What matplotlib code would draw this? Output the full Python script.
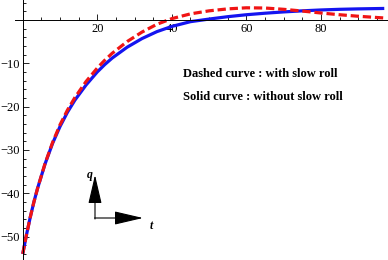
import matplotlib
matplotlib.use("Agg")
import matplotlib.pyplot as plt
from matplotlib.ticker import FixedLocator

# values
t = [0, 1, 2, 3, 4, 6, 8, 10, 12, 14, 17, 20, 22, 24, 28, 32, 36, 40, 45,
     50, 55, 60, 65, 70, 75, 80, 85, 90, 97]
q_solid = [-54, -49.6, -45.6, -42.0, -38.8, -33.2, -28.5, -24.6, -21.3, -18.5,
           -15.0, -12.0, -10.3, -8.8, -6.3, -4.3, -2.7, -1.5, -0.4,
           0.2, 0.75, 1.2, 1.55, 1.85, 2.1, 2.3, 2.45, 2.55, 2.65]
q_dashed = [-54, -49.6, -45.6, -42.0, -38.8, -33.1, -28.3, -24.2, -20.8, -17.9,
            -14.2, -11.1, -9.3, -7.7, -5.0, -2.8, -1.0, 0.3, 1.4,
            2.1, 2.55, 2.8, 2.75, 2.45, 2.05, 1.6, 1.2, 0.85, 0.45]
xticks = [20, 40, 60, 80]
yticks = [-50, -40, -30, -20, -10]

plt.rcParams['font.family'] = ['Liberation Serif', 'DejaVu Serif']

fig = plt.figure(figsize=(3.88, 2.6), dpi=100)
ax = fig.add_axes([0, 0, 1, 1])
ax.set_xlim(-6.1, 98)
ax.set_ylim(-55.4, 4.6)

ax.plot(t, q_solid, color='#1414f0', lw=2.3, solid_capstyle='butt')
ax.plot(t, q_dashed, color='#f01414', lw=2.3, dashes=(2.6, 1.2))

for s in ['top', 'right']:
    ax.spines[s].set_visible(False)
ax.spines['left'].set_position(('data', 0))
ax.spines['bottom'].set_position(('data', 0))
ax.spines['bottom'].set_bounds(-2, 98)
for s in ['left', 'bottom']:
    ax.spines[s].set_linewidth(0.7)

ax.xaxis.set_major_locator(FixedLocator(xticks))
ax.xaxis.set_minor_locator(FixedLocator([v for v in range(5, 98, 5) if v % 20]))
ax.yaxis.set_major_locator(FixedLocator(yticks))
ax.yaxis.set_minor_locator(FixedLocator([v for v in range(-54, 5, 2) if v % 10]))
ax.tick_params(which='both', direction='in', width=0.6, labelsize=9, pad=2)
ax.tick_params(which='major', length=4)
ax.tick_params(which='minor', length=2.2)

fh = 260
ax.text(183, fh - 74, 'Dashed curve : with slow roll', transform=None,
        fontsize=9, fontweight='bold', va='center')
ax.text(183, fh - 97, 'Solid curve : without slow roll', transform=None,
        fontsize=9, fontweight='bold', va='center')

# little q / t arrows
ax.annotate('', xy=(95, fh - 175), xytext=(95, fh - 219), xycoords='figure pixels',
            textcoords='figure pixels',
            arrowprops=dict(arrowstyle='-|>,head_length=1.8,head_width=0.42',
                            color='black', lw=0.8, shrinkA=0, shrinkB=0))
ax.annotate('', xy=(143, fh - 218), xytext=(94.6, fh - 218), xycoords='figure pixels',
            textcoords='figure pixels',
            arrowprops=dict(arrowstyle='-|>,head_length=1.8,head_width=0.42',
                            color='black', lw=0.8, shrinkA=0, shrinkB=0))
ax.text(90, fh - 175, 'q', transform=None, fontsize=8.5, fontweight='bold',
        style='italic', ha='center', va='center')
ax.text(151, fh - 226, 't', transform=None, fontsize=8.5, fontweight='bold',
        style='italic', ha='center', va='center')

fig.savefig('out.png', dpi=100)
